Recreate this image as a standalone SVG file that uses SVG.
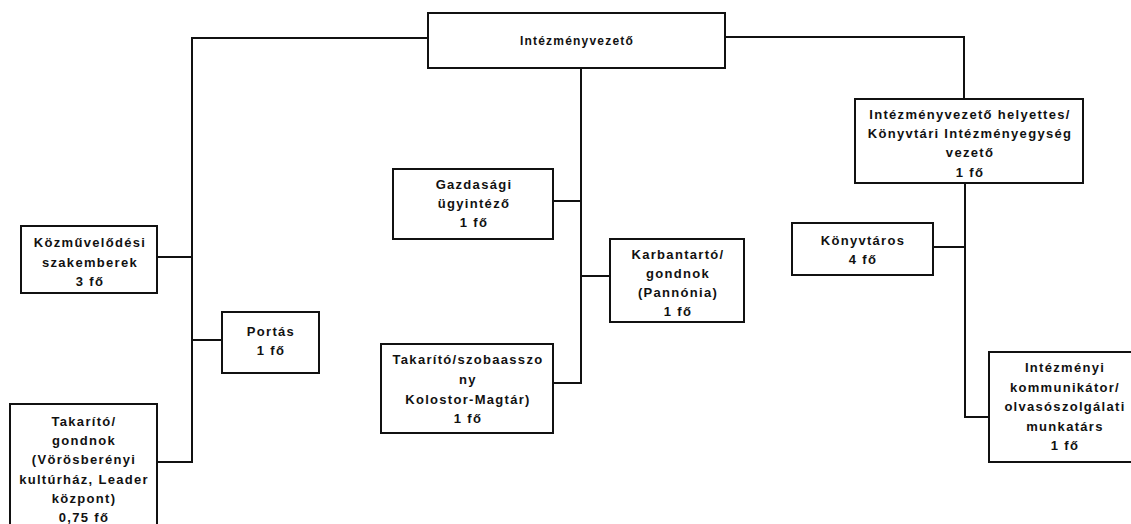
<svg xmlns="http://www.w3.org/2000/svg" width="1131" height="524" viewBox="0 0 1131 524">
<style>
.box{fill:#fff;stroke:#111;stroke-width:2}
.ln{fill:none;stroke:#111;stroke-width:2}
text{font-family:"Liberation Sans",Arial,sans-serif;font-weight:bold;font-size:13px;letter-spacing:1.3px;text-anchor:middle;fill:#111}
</style>
<rect width="1131" height="524" fill="#fff"/>
<g id="connectors">
<polyline class="ln" points="428,38 192,38 192,462 157,462"/>
<line class="ln" x1="157" y1="257" x2="192" y2="257"/>
<line class="ln" x1="192" y1="340" x2="222" y2="340"/>
<polyline class="ln" points="581,68 581,383 553,383"/>
<line class="ln" x1="553" y1="201" x2="581" y2="201"/>
<line class="ln" x1="581" y1="276" x2="610" y2="276"/>
<polyline class="ln" points="725,37 964,37 964,99"/>
<polyline class="ln" points="965,183 965,417 989,417"/>
<line class="ln" x1="933" y1="247" x2="965" y2="247"/>
</g>
<g id="n-intezmenyvezeto">
<rect class="box" x="428" y="13" width="297" height="55"/>
<text x="577" y="45" style="font-size:12px;letter-spacing:1.2px">Intézményvezető</text>
</g>
<g id="n-kozmuvelodesi">
<rect class="box" x="21" y="226" width="136" height="67"/>
<text x="90" y="247">Közművelődési</text>
<text x="90" y="267">szakemberek</text>
<text x="90" y="286">3 fő</text>
</g>
<g id="n-portas">
<rect class="box" x="222" y="312" width="97" height="61"/>
<text x="271" y="336">Portás</text>
<text x="271" y="355">1 fő</text>
</g>
<g id="n-takarito-voros">
<rect class="box" x="10" y="404" width="147" height="130"/>
<text x="84" y="426">Takarító/</text>
<text x="84" y="445">gondnok</text>
<text x="84" y="464">(Vörösberényi</text>
<text x="84" y="484">kultúrház, Leader</text>
<text x="84" y="503">központ)</text>
<text x="84" y="522">0,75 fő</text>
</g>
<g id="n-gazdasagi">
<rect class="box" x="393" y="169" width="160" height="70"/>
<text x="474" y="189">Gazdasági</text>
<text x="474" y="208">ügyintéző</text>
<text x="474" y="227">1 fő</text>
</g>
<g id="n-karbantarto">
<rect class="box" x="610" y="239" width="134" height="83"/>
<text x="678" y="259">Karbantartó/</text>
<text x="678" y="278">gondnok</text>
<text x="678" y="297">(Pannónia)</text>
<text x="678" y="316">1 fő</text>
</g>
<g id="n-takarito-szoba">
<rect class="box" x="381" y="344" width="172" height="89"/>
<text x="468" y="364">Takarító/szobaasszo</text>
<text x="468" y="384">ny</text>
<text x="468" y="404">Kolostor-Magtár)</text>
<text x="468" y="423">1 fő</text>
</g>
<g id="n-helyettes">
<rect class="box" x="855" y="99" width="228" height="84"/>
<text x="970" y="119">Intézményvezető helyettes/</text>
<text x="970" y="138">Könyvtári Intézményegység</text>
<text x="970" y="157">vezető</text>
<text x="970" y="177">1 fő</text>
</g>
<g id="n-konyvtaros">
<rect class="box" x="792" y="223" width="141" height="52"/>
<text x="863" y="245">Könyvtáros</text>
<text x="863" y="264">4 fő</text>
</g>
<g id="n-intezmenyi">
<rect class="box" x="989" y="352" width="150" height="110"/>
<text x="1065" y="372">Intézményi</text>
<text x="1065" y="392">kommunikátor/</text>
<text x="1065" y="411">olvasószolgálati</text>
<text x="1065" y="431">munkatárs</text>
<text x="1065" y="450">1 fő</text>
</g>
</svg>
